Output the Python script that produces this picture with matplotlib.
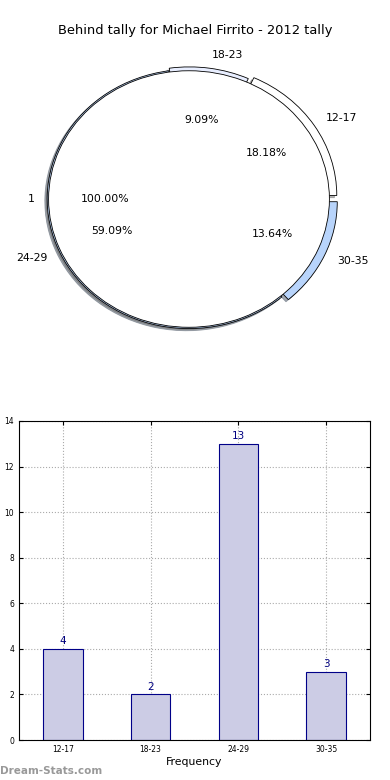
import numpy as np
import matplotlib
matplotlib.use('Agg')
import matplotlib.pyplot as plt

# data
title = 'Behind tally for Michael Firrito - 2012 tally'
groups = ['12-17', '18-23', '24-29', '30-35']
counts = [4, 2, 13, 3]
outer_colors = ['#ffffff', '#e8eeff', '#bcd6fb', '#b8d4fb']
outer_explode = [0.05, 0.02, 0.0, 0.05]
inner_labels = ['1']
inner_values = [1]

fig = plt.figure(figsize=(3.9, 7.8), dpi=100)

fig.text(0.5, 1 - 30.5/780., title, ha='center', va='center', fontsize=9.4)

# pie part
shadow = {'ox': -0.012, 'oy': -0.012, 'shade': 0.6}
ax1 = fig.add_axes([1.8/390., 0.5256, 374.4/390., 0.4385])
ax1.pie(counts, labels=groups, colors=outer_colors, explode=outer_explode,
		autopct='%1.2f%%', pctdistance=0.6, labeldistance=1.1, radius=1.0,
		shadow=shadow, startangle=0,
		wedgeprops=dict(width=0.07, edgecolor='black', linewidth=0.6),
		textprops=dict(fontsize=7.8))
ax1.pie(inner_values, labels=inner_labels, colors=['white'], autopct='%1.2f%%',
		pctdistance=0.6, labeldistance=1.1, radius=0.99, shadow=shadow,
		wedgeprops=dict(edgecolor='black', linewidth=0.6),
		textprops=dict(fontsize=7.8))
ax1.set_aspect('auto')
ax1.set_xlim(-1.32, 1.32)
ax1.set_ylim(-1.32, 1.32)
ax1.axis('off')

# bar part
ax2 = fig.add_axes([19/390., 40/780., 351/390., 319/780.])
x = np.arange(len(groups))
bars = ax2.bar(x, counts, width=0.45, color='#ccccE5', edgecolor='#000088', linewidth=0.8, zorder=2)
for xi, c in zip(x, counts):
	ax2.text(xi, c + 0.12, str(c), ha='center', va='bottom', fontsize=7.5, color='#000080')
ax2.set_xlim(-0.5, 3.5)
ax2.set_ylim(0, 14)
ax2.set_yticks(range(0, 15, 2))
ax2.set_xticks(x)
ax2.set_xticklabels(groups)
ax2.tick_params(labelsize=5.5, direction='in', top=True, right=True, length=3)
ax2.grid(True, linestyle=':', color='#aaaaaa', linewidth=0.8, zorder=0)
ax2.set_axisbelow(True)
ax2.set_xlabel('Frequency', fontsize=7.8, labelpad=2)
ax2.set_ylabel('Date Interval', fontsize=7, labelpad=10)
for s in ax2.spines.values():
	s.set_linewidth(0.8)

fig.text(0.0, 1 - 771/780., 'Dream-Stats.com', ha='left', va='center', fontsize=7.5,
		 color='#999999', fontweight='bold')

fig.savefig('out.png', dpi=100)
